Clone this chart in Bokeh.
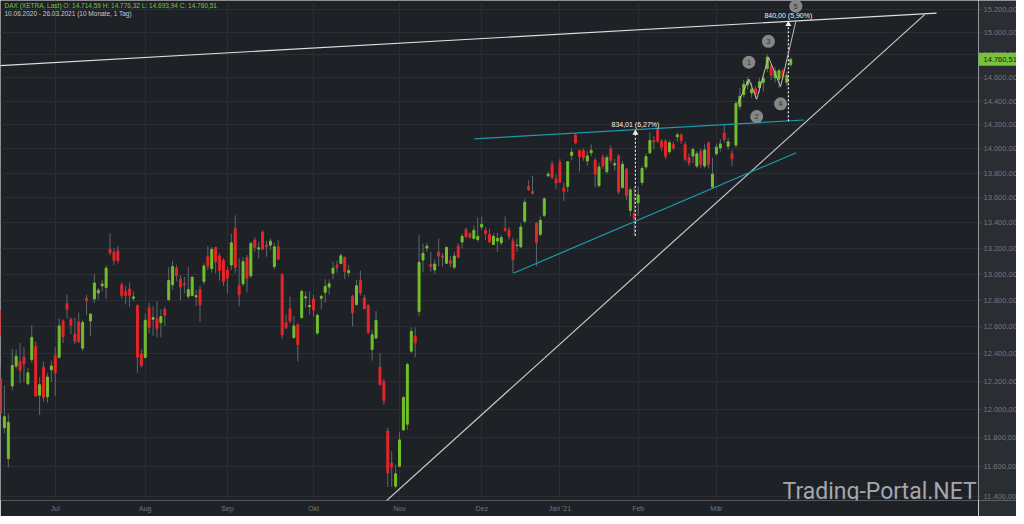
from bokeh.plotting import figure
from bokeh.layouts import row
from bokeh.models import ColumnDataSource, Range1d, FixedTicker, Label, Grid
from bokeh.embed import file_html
from bokeh.resources import INLINE
from bokeh.core.properties import value

# ---------------- data (DAX XETRA daily, 10.06.2020 - 26.03.2021) ----------------
opens = [12725, 12219, 11871, 11655, 12167, 12311, 12344, 12376, 12183, 12359,
         12456, 12100, 12303, 12089, 12284, 12388, 12376, 12644, 12775, 12657,
         12547, 12637, 12442, 12814, 12644, 12810, 12855, 12910, 12897, 13191,
         13168, 13180, 12918, 12867, 12885, 12815, 12760, 12400, 12373, 12743,
         12657, 12662, 12632, 12731, 12805, 12918, 13045, 12961, 12925, 12830,
         12835, 12825, 12880, 12943, 13134, 13042, 13206, 13139, 13103, 13031,
         13070, 13354, 12910, 12925, 13126, 12986, 13263, 13193, 13327, 13224,
         13224, 13057, 13211, 12998, 12632, 12736, 12519, 12615, 12669, 12818,
         12751, 12810, 12554, 12815, 12860, 12900, 13006, 13070, 13082, 13129,
         13011, 12830, 12767, 12950, 12818, 12762, 12432, 12517, 12303, 12200,
         11847, 11625, 11467, 11603, 11854, 11895, 12420, 12530, 12714, 13108,
         13201, 13075, 13031, 13170, 13139, 13083, 13103, 13052, 13216, 13249,
         13346, 13315, 13276, 13268, 13366, 13340, 13307, 13229, 13257, 13242,
         13354, 13340, 13257, 13220, 13211, 13413, 13690, 13651, 13398, 13309,
         13459, 13778, 13872, 13751, 13886, 13679, 13690, 13945, 14113, 13986,
         13986, 13899, 13967, 13905, 13698, 13931, 13812, 13999, 13866, 13940,
         13684, 13832, 13498, 13472, 13559, 13724, 13850, 13966, 14068, 14161,
         14063, 14063, 13975, 14036, 14100, 14113, 14036, 13926, 13940, 13858,
         13980, 13858, 14049, 13687, 13959, 14007, 14131, 14021, 13958, 14030,
         14355, 14455, 14540, 14470, 14505, 14515, 14560, 14680, 14700, 14600,
         14590, 14660, 14560, 14714.59]
highs = [12760, 12306, 12171, 11971, 12437, 12432, 12481, 12449, 12296, 12612,
         12490, 12231, 12344, 12262, 12351, 12449, 12662, 12657, 12842, 12669,
         12669, 12706, 12652, 12842, 12701, 13001, 12893, 12955, 13065, 13315,
         13198, 13216, 12935, 12905, 12935, 12867, 12768, 12437, 12701, 12780,
         12755, 12792, 12731, 12750, 13052, 13103, 13070, 12993, 12980, 13052,
         12980, 12880, 12910, 13083, 13216, 13211, 13211, 13160, 13122, 13057,
         13315, 13459, 13122, 13129, 13147, 13250, 13284, 13250, 13340, 13258,
         13276, 13242, 13263, 13006, 12693, 12828, 12681, 12627, 12880, 12867,
         12867, 12842, 12701, 12842, 12960, 12960, 13096, 13103, 13160, 13134,
         13070, 12842, 12955, 13026, 12842, 12768, 12578, 12718, 12407, 12219,
         11870, 11706, 11614, 11843, 12096, 12335, 12596, 12596, 13303, 13237,
         13242, 13172, 13114, 13276, 13160, 13216, 13139, 13172, 13237, 13315,
         13361, 13323, 13380, 13443, 13450, 13366, 13354, 13315, 13320, 13302,
         13450, 13366, 13284, 13276, 13395, 13594, 13740, 13778, 13405, 13450,
         13604, 13812, 13899, 13791, 13915, 13724, 13899, 14007, 14131, 13994,
         14005, 13980, 14036, 13926, 13883, 13955, 13950, 14029, 13915, 13956,
         13899, 13842, 13682, 13690, 13690, 13858, 13960, 14138, 14103, 14178,
         14080, 14080, 14070, 14060, 14135, 14130, 14060, 13960, 14010, 13980,
         13999, 14040, 14060, 13926, 14040, 14080, 14200, 14090, 13990, 14400,
         14510, 14580, 14610, 14560, 14530, 14600, 14620, 14804, 14720, 14690,
         14680, 14680, 14650, 14776.32]
lows = [12473, 11959, 11831, 11596, 12135, 12291, 12190, 12195, 12171, 12335,
        12088, 11959, 12055, 12048, 12195, 12095, 12364, 12480, 12662, 12547,
        12473, 12481, 12422, 12686, 12534, 12780, 12805, 12867, 12810, 13147,
        13070, 13082, 12810, 12767, 12750, 12792, 12262, 12300, 12369, 12554,
        12534, 12522, 12522, 12607, 12792, 12880, 12943, 12800, 12850, 12810,
        12830, 12755, 12637, 12918, 13031, 13011, 13006, 12950, 12910, 12850,
        13031, 13006, 12755, 12905, 12860, 12968, 13172, 13122, 13185, 13134,
        13185, 13037, 13111, 12510, 12582, 12627, 12515, 12344, 12657, 12743,
        12693, 12677, 12539, 12731, 12780, 12842, 12961, 13011, 13075, 12961,
        12980, 12603, 12760, 12835, 12731, 12547, 12351, 12510, 12170, 12034,
        11461, 11461, 11451, 11596, 11847, 11854, 12407, 12376, 12681, 13018,
        13172, 13018, 13001, 13062, 13057, 13077, 13052, 13037, 13122, 13198,
        13284, 13276, 13268, 13249, 13340, 13263, 13242, 13224, 13172, 13224,
        13330, 13268, 13006, 13170, 13200, 13395, 13655, 13625, 13060, 13293,
        13443, 13765, 13751, 13671, 13720, 13573, 13644, 13905, 14036, 13812,
        13900, 13860, 13940, 13684, 13682, 13834, 13790, 13880, 13818, 13630,
        13668, 13578, 13450, 13297, 13455, 13698, 13830, 13955, 13997, 14049,
        13980, 13913, 13955, 13990, 14060, 14040, 13895, 13860, 13880, 13840,
        13840, 13840, 13840, 13670, 13940, 13970, 14050, 13990, 13856, 14010,
        14330, 14430, 14500, 14430, 14420, 14470, 14480, 14650, 14580, 14560,
        14510, 14580, 14530, 14693.94]
closes = [12530, 11971, 11948, 11908, 12315, 12383, 12279, 12327, 12262, 12522,
          12095, 12176, 12083, 12231, 12311, 12262, 12607, 12527, 12731, 12613,
          12493, 12490, 12632, 12797, 12696, 12931, 12875, 12923, 13045, 13165,
          13104, 13104, 12835, 12835, 12835, 12825, 12376, 12315, 12649, 12596,
          12669, 12588, 12677, 12686, 12950, 13057, 12988, 12900, 12915, 12880,
          12976, 12835, 12765, 13062, 13062, 13191, 13095, 13026, 12943, 12968,
          13242, 13052, 12842, 13095, 12968, 13237, 13206, 13203, 13191, 13211,
          13255, 13211, 13114, 12539, 12593, 12642, 12607, 12468, 12867, 12826,
          12760, 12725, 12686, 12828, 12905, 12925, 13045, 13049, 13141, 13018,
          13026, 12705, 12910, 12855, 12736, 12559, 12541, 12649, 12176, 12062,
          11557, 11596, 11551, 11785, 12084, 12322, 12566, 12481, 13091, 13160,
          13216, 13057, 13077, 13139, 13129, 13206, 13083, 13139, 13129, 13293,
          13289, 13284, 13340, 13293, 13388, 13315, 13249, 13293, 13276, 13284,
          13340, 13293, 13114, 13224, 13366, 13564, 13664, 13635, 13242, 13419,
          13591, 13791, 13764, 13719, 13724, 13652, 13893, 13972, 14049, 13934,
          13926, 13940, 13986, 13791, 13850, 13858, 13926, 13905, 13877, 13646,
          13872, 13618, 13663, 13433, 13623, 13837, 13935, 14068, 14057, 14063,
          14013, 13938, 14049, 14007, 14115, 14068, 13913, 13885, 13994, 13958,
          13872, 13990, 13872, 13791, 14013, 14040, 14076, 14057, 13918, 14380,
          14440, 14545, 14570, 14502, 14461, 14566, 14595, 14780, 14621, 14657,
          14662, 14610, 14621, 14760.51]

month_ticks = [15, 38, 59, 81, 103, 124, 144, 164, 184]
month_labels = ["Jul", "Aug", "Sep", "Okt", "Nov", "Dez", "Jan '21", "Feb", "Mär"]
price_ticks = list(range(11400, 15201, 200))

# drawn trend lines (trading-day index, price)
resistance_x = [-0.3, 240.3]
resistance_y = [14703, 15170]
support_x = [96.6, 237.3]
support_y = [11296, 15158]
channel_top_x = [122.1, 206.4]
channel_top_y = [14082, 14240]
channel_bot_x = [132.1, 204.4]
channel_bot_y = [13006, 13967]

# measurements
measure1_x = 163.3
measure1_lo, measure1_hi = 13297, 14131
measure1_text = "834,01 (6,27%)"
measure2_x = 202.4
measure2_lo, measure2_hi = 14230, 15070
measure2_text = "840,00 (5,90%)"

# Elliott wave count
wave_x = [189.5, 192.3, 194.3, 197.3, 200.4, 204.3]
wave_y = [14380, 14589, 14416, 14781, 14524, 15093]
wave_lbl_x = [192.3, 194.3, 197.3, 200.4, 204.3]
wave_lbl_y = [14735, 14269, 14918, 14377, 15232]
wave_lbl = ["1", "2", "3", "4", "5"]

last_price = 14760.51

# ---------------- styling ----------------
BG = "#1e2126"
PANEL = "#2a2d32"
GRID = "#2b2e34"
UP = "#72c02c"
DOWN = "#e5262a"
WICK = "#62666c"
AXIS_TXT = "#74777c"
FONT = "Liberation Sans"


def de(v):
    s = f"{v:,.2f}"
    return s.replace(",", "X").replace(".", ",").replace("X", ".")


n = len(closes)
src = ColumnDataSource(dict(
    x=list(range(n)), o=opens, h=highs, l=lows, c=closes,
    top=[max(a, b) for a, b in zip(opens, closes)],
    bottom=[min(a, b) for a, b in zip(opens, closes)],
    color=[UP if c >= o else DOWN for o, c in zip(opens, closes)],
))

yr = Range1d(11370, 15283)
p = figure(width=978, height=516, y_axis_type="log",
           x_range=Range1d(1.0, 251.0), y_range=yr,
           output_backend="svg", toolbar_location=None, y_axis_location=None,
           min_border_left=0, min_border_top=0, min_border_bottom=16, min_border_right=0,
           background_fill_color=BG, border_fill_color=BG, outline_line_color=None)

xa = p.xaxis[0]
xa.ticker = FixedTicker(ticks=month_ticks)
xa.major_label_overrides = {t: lbl for t, lbl in zip(month_ticks, month_labels)}
xa.axis_line_color = None
xa.major_tick_line_color = None
xa.major_tick_in = 0
xa.major_tick_out = 0
xa.minor_tick_line_color = None
xa.minor_tick_out = 0
xa.major_label_text_font = FONT
xa.major_label_text_font_size = "7px"
xa.major_label_text_color = AXIS_TXT
xa.major_label_standoff = 4

for g in p.xgrid:
    g.ticker = FixedTicker(ticks=month_ticks)
    g.grid_line_color = GRID
ygrids = list(p.ygrid)
if not ygrids:
    g = Grid(dimension=1)
    p.add_layout(g, "center")
    ygrids = [g]
for g in ygrids:
    g.ticker = FixedTicker(ticks=price_ticks)
    g.grid_line_color = GRID

# candles
p.segment(x0="x", y0="l", x1="x", y1="h", source=src, line_color=WICK, line_width=1)
p.vbar(x="x", width=0.5, top="top", bottom="bottom", source=src,
       fill_color="color", line_color="color", line_width=1)

# trend lines
p.line(resistance_x, resistance_y, line_color="#dedede", line_width=1.2)
p.line(support_x, support_y, line_color="#c8c8c8", line_width=1.2)
p.line(channel_top_x, channel_top_y, line_color="#1d9aad", line_width=1.2)
p.line(channel_bot_x, channel_bot_y, line_color="#1d9aad", line_width=1.2)

# measurements
for mx, lo, hi, txt in [(measure1_x, measure1_lo, measure1_hi, measure1_text),
                        (measure2_x, measure2_lo, measure2_hi, measure2_text)]:
    p.line([mx, mx], [lo, hi], line_color="#e8e8e8", line_width=1.2, line_dash="2 2")
    p.scatter([mx], [hi], marker="triangle", size=6, fill_color="#f0f0f0", line_color=None)
    p.add_layout(Label(x=mx, y=hi, text=txt, text_align="center", text_baseline="bottom",
                       y_offset=5, text_color="#f2f2f2", text_font=FONT, text_font_size="7px"))

# Elliott wave
p.line(wave_x, wave_y, line_color="#bdbdbd", line_width=1)
p.scatter(wave_lbl_x, wave_lbl_y, marker="circle", size=13, fill_color="#868686", line_color=None)
p.text(wave_lbl_x, wave_lbl_y, text=wave_lbl, text_align="center", text_baseline="middle",
       text_color="#2f2f2f", text_font=value(FONT), text_font_size="7px")

# header
p.add_layout(Label(x=4, y=499, x_units="screen", y_units="screen", text_baseline="top",
                   text="DAX (XETRA, Last)  O: 14.714,59  H: 14.776,32  L: 14.693,94  C: 14.760,51",
                   text_color="#7cc242", text_font=FONT, text_font_size="6.5px"))
p.add_layout(Label(x=4, y=491, x_units="screen", y_units="screen", text_baseline="top",
                   text="10.06.2020 - 26.03.2021  (10 Monate, 1 Tag)",
                   text_color="#c9c9c9", text_font=FONT, text_font_size="6.5px"))

# watermark
p.add_layout(Label(x=782, y=-4, x_units="screen", y_units="screen", text="Trading-Portal.NET",
                   text_baseline="bottom", text_color="#a4a7ab", text_font="Roboto",
                   text_font_size="23px"))

# ---------------- right price scale panel ----------------
p2 = figure(width=38, height=516, y_axis_type="log", x_range=Range1d(0, 38), y_range=yr,
            output_backend="svg", toolbar_location=None,
            x_axis_location=None, y_axis_location=None,
            min_border_left=0, min_border_top=0, min_border_bottom=16, min_border_right=0,
            background_fill_color=PANEL, border_fill_color=PANEL, outline_line_color=None)
for g in list(p2.xgrid) + list(p2.ygrid):
    g.visible = False

tick_src = ColumnDataSource(dict(y=price_ticks, x0=[0] * len(price_ticks), x1=[3] * len(price_ticks),
                                 tx=[5] * len(price_ticks), lbl=[de(v) for v in price_ticks]))
p2.segment(x0="x0", y0="y", x1="x1", y1="y", source=tick_src, line_color="#4a4d52", line_width=1)
p2.text(x="tx", y="y", text="lbl", source=tick_src, text_baseline="middle", text_align="left",
        text_color=AXIS_TXT, text_font=value(FONT), text_font_size="7.5px")

# last price tag
p2.rect(x=[19], y=[last_price], width=38, height=13, height_units="screen",
        fill_color="#78c23c", line_color=None)
p2.scatter(x=[0.5], y=[last_price], marker="triangle", angle=1.5708, size=9,
           fill_color="#78c23c", line_color=None)
p2.text(x=[5], y=[last_price], text=[de(last_price)], text_baseline="middle", text_align="left",
        text_color="#15190f", text_font=value(FONT), text_font_size="7.5px")

layout = row(p, p2, spacing=0)
open("out.html", "w").write(file_html(layout, INLINE))
